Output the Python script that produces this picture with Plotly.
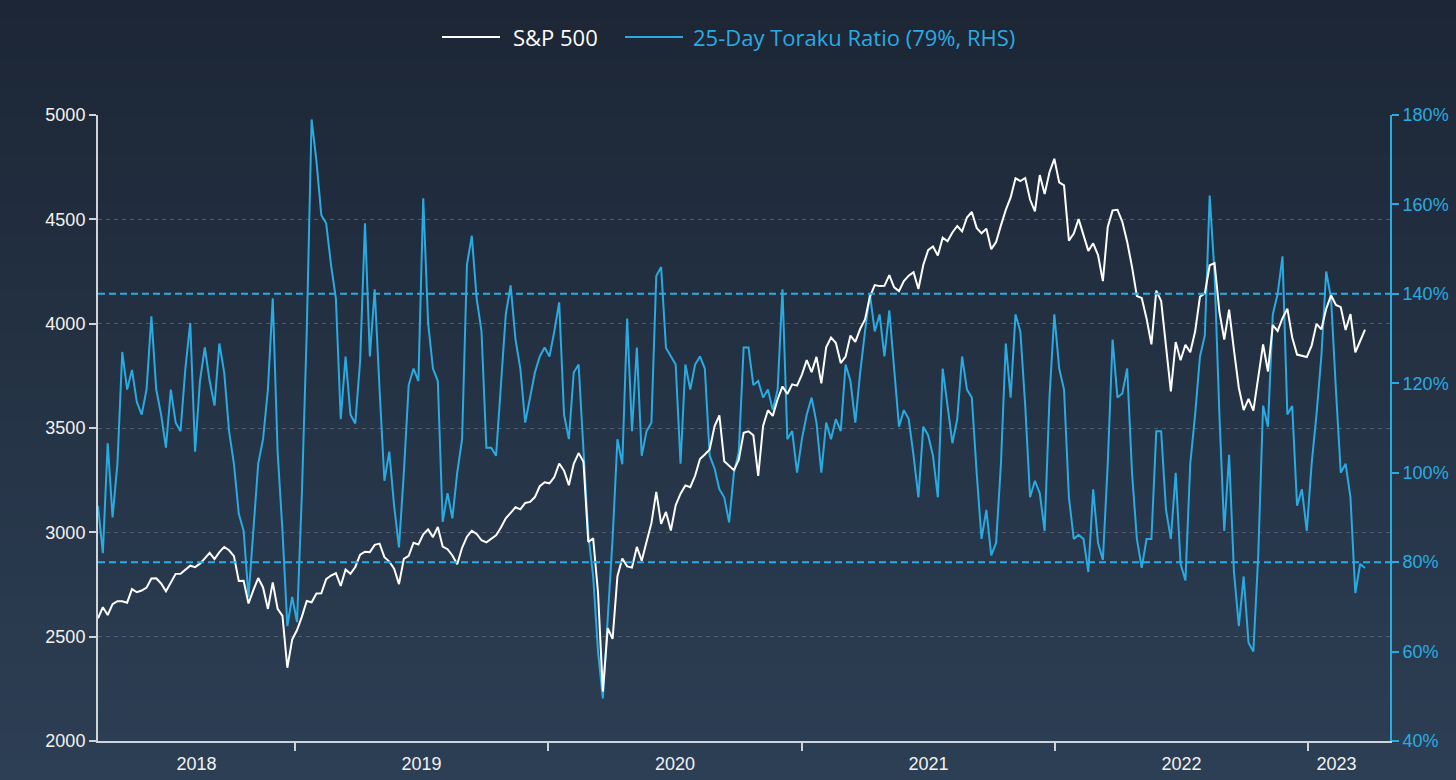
import pandas as pd
import plotly.graph_objects as go

#---DATA---
# weekly readings, first week ending 2018-03-23
start_date = "2018-03-23"
x_end = "2023-04-29"

sp500_2018 = [2588, 2641, 2604, 2656, 2670, 2670, 2663, 2728, 2713, 2721,
              2735, 2779, 2780, 2755, 2718, 2760, 2801, 2802, 2819, 2840,
              2833, 2850, 2875, 2902, 2872, 2905, 2930, 2914, 2886, 2767,
              2768, 2659, 2723, 2781, 2736, 2633, 2760, 2633, 2600, 2351,
              2486]
sp500_2019 = [2532, 2596, 2671, 2665, 2707, 2708, 2776, 2793, 2804, 2743,
              2822, 2801, 2834, 2893, 2907, 2905, 2940, 2946, 2881, 2860,
              2826, 2752, 2873, 2887, 2950, 2942, 2990, 3014, 2977, 3026,
              2932, 2919, 2889, 2847, 2926, 2979, 3007, 2992, 2962, 2952,
              2970, 2986, 3023, 3067, 3093, 3120, 3110, 3141, 3146, 3169,
              3221, 3240]
sp500_2020 = [3235, 3265, 3330, 3295, 3226, 3328, 3380, 3338, 2954, 2972,
              2711, 2237, 2541, 2489, 2790, 2875, 2837, 2831, 2930, 2864,
              2955, 3044, 3194, 3041, 3098, 3009, 3130, 3185, 3225, 3216,
              3271, 3351, 3373, 3397, 3508, 3560, 3341, 3319, 3298, 3348,
              3477, 3484, 3465, 3270, 3510, 3585, 3558, 3638, 3699, 3663,
              3709, 3703, 3756]
sp500_2021 = [3825, 3768, 3841, 3714, 3887, 3934, 3907, 3811, 3842, 3943,
              3913, 3975, 4020, 4129, 4185, 4180, 4181, 4233, 4174, 4156,
              4204, 4230, 4247, 4166, 4281, 4352, 4370, 4327, 4412, 4395,
              4437, 4468, 4442, 4509, 4535, 4459, 4433, 4455, 4357, 4391,
              4471, 4545, 4605, 4697, 4683, 4698, 4595, 4538, 4712, 4621,
              4726, 4790]
sp500_2022 = [4677, 4663, 4398, 4432, 4501, 4419, 4349, 4385, 4329, 4204,
              4463, 4543, 4546, 4488, 4393, 4272, 4132, 4123, 4024, 3901,
              4158, 4109, 3901, 3675, 3912, 3825, 3899, 3863, 3962, 4130,
              4145, 4280, 4290, 4058, 3924, 4067, 3873, 3693, 3586, 3640,
              3583, 3752, 3901, 3771, 3993, 3965, 4026, 4072, 3934, 3852,
              3845, 3840]
sp500_2023 = [3895, 3999, 3973, 4071, 4136, 4090, 4079, 3970, 4046, 3862,
              3917, 3971]

toraku_2018 = [92.6, 82.0, 106.6, 90.0, 102.0, 127.0, 118.6, 123.0, 115.8, 113.0,
               118.6, 135.0, 118.6, 113.0, 105.6, 118.6, 111.2, 109.3, 123.3, 133.5,
               104.7, 120.5, 128.0, 120.5, 115.0, 128.9, 122.4, 109.3, 102.0, 90.8,
               87.0, 72.2, 87.0, 102.0, 107.5, 118.6, 139.0, 104.7, 87.0, 65.7,
               72.2]
toraku_2019 = [66.6, 95.4, 131.6, 179.0, 169.7, 157.6, 155.8, 146.5, 139.0, 112.0,
               126.0, 113.0, 111.0, 125.0, 155.8, 126.0, 141.0, 118.6, 98.2, 104.7,
               92.6, 83.3, 100.0, 119.6, 123.3, 120.5, 161.4, 133.5, 123.3, 120.5,
               89.0, 95.4, 89.8, 100.0, 107.5, 146.5, 153.0, 139.0, 131.6, 105.6,
               105.6, 103.8, 118.6, 135.4, 141.9, 129.8, 123.3, 111.2, 116.8, 122.4,
               126.0, 128.0]
toraku_2020 = [126.0, 131.6, 138.1, 113.0, 107.5, 122.4, 124.2, 104.7, 86.1, 76.8,
               60.0, 49.5, 68.5, 85.2, 107.5, 101.9, 134.5, 109.3, 128.0, 103.8,
               109.3, 111.2, 144.0, 146.0, 127.9, 126.0, 124.2, 102.0, 124.2, 118.6,
               124.2, 126.0, 123.3, 103.8, 101.0, 96.3, 94.5, 88.9, 100.0, 104.7,
               128.0, 128.0, 119.6, 120.5, 116.8, 118.6, 114.0, 118.6, 141.0, 107.5,
               109.3, 100.0, 107.5]
toraku_2021 = [113.0, 116.8, 111.2, 100.0, 111.2, 107.5, 112.0, 109.3, 124.2, 120.5,
               111.2, 122.4, 131.6, 140.0, 131.6, 135.4, 126.0, 136.3, 123.3, 110.3,
               114.0, 112.0, 103.8, 94.5, 110.3, 108.4, 103.8, 94.5, 123.3, 115.0,
               106.6, 112.0, 126.0, 118.6, 116.8, 100.0, 85.2, 91.7, 81.5, 84.3,
               102.0, 128.9, 116.8, 135.4, 131.6, 115.0, 94.5, 98.2, 95.4, 87.0,
               116.8, 135.4]
toraku_2022 = [123.3, 118.6, 94.5, 85.2, 86.1, 85.2, 77.8, 96.3, 84.3, 80.5,
               102.0, 129.8, 116.8, 117.7, 123.3, 100.0, 85.2, 78.7, 85.2, 85.2,
               109.3, 109.3, 91.7, 85.2, 100.0, 79.6, 75.9, 102.0, 113.0, 126.0,
               130.7, 162.0, 144.6, 113.0, 87.0, 104.0, 77.8, 65.7, 76.8, 62.0,
               60.0, 81.5, 115.0, 110.3, 135.4, 140.0, 148.4, 113.0, 114.9, 92.6,
               96.3, 87.0]
toraku_2023 = [102.0, 113.0, 126.0, 145.0, 139.0, 118.6, 100.0, 102.0, 94.5, 73.1,
               79.6, 78.7]

years = ["2018", "2019", "2020", "2021", "2022", "2023"]
thresholds = [140, 80]
sp_name = "S&P 500"
toraku_name = "25-Day Toraku Ratio (79%, RHS)"

sp500 = sp500_2018 + sp500_2019 + sp500_2020 + sp500_2021 + sp500_2022 + sp500_2023
toraku = toraku_2018 + toraku_2019 + toraku_2020 + toraku_2021 + toraku_2022 + toraku_2023
dates = pd.date_range(start_date, periods=len(sp500), freq="7D")

#---COLOURS---
blue = "#29abe2"
white = "#ffffff"
axis_grey = "#d0d3d8"
label_color = "#f2f2f2"

#year labels sit in the middle of the data inside each year, ticks mark the boundaries
label_pos = []
for yr in years:
    lo = max(pd.Timestamp(yr + "-01-01"), dates[0])
    hi = min(pd.Timestamp(str(int(yr) + 1) + "-01-01"), dates[-1])
    label_pos.append(lo + (hi - lo) / 2)

#---PLOT---
fig = go.Figure()
fig.add_trace(go.Scatter(
    x=dates, y=sp500,
    name=sp_name,
    mode="lines",
    yaxis="y2",
    line=dict(color=white, width=2)))
fig.add_trace(go.Scatter(
    x=dates, y=toraku,
    name=toraku_name,
    mode="lines",
    yaxis="y",
    line=dict(color=blue, width=2)))

#dashed 140% / 80% levels
for lvl in thresholds:
    fig.add_shape(type="line", xref="paper", x0=0, x1=1, yref="y", y0=lvl, y1=lvl,
                  line=dict(color=blue, width=2, dash="7px,4px"))

#---FRAME---
W, H = 1456, 780
m_l, m_r, m_t, m_b = 98, 66, 115, 39
plot_w = W - m_l - m_r
plot_h = H - m_t - m_b

def px_x(px):
    return (px - m_l) / plot_w

def px_y(py):
    return (H - m_b - py) / plot_h

#background gradient, drawn as thin bands under everything
top_rgb = (28, 38, 53)
bot_rgb = (45, 63, 85)
n_bands = 80
for k in range(n_bands):
    py0 = H * k / n_bands
    py1 = H * (k + 1) / n_bands + 1
    f = (k + 0.5) / n_bands
    c = tuple(int(round(top_rgb[j] + (bot_rgb[j] - top_rgb[j]) * f)) for j in range(3))
    fig.add_shape(type="rect", xref="paper", yref="paper", layer="below",
                  x0=-1, x1=2, y0=px_y(py1), y1=px_y(py0),
                  line=dict(width=0), fillcolor="rgb(%d,%d,%d)" % c)

#legend drawn by hand so the line samples are as long as in the original
leg_y = px_y(37)
leg_items = [(442, 500, 511, sp_name, white), (625, 683, 691, toraku_name, blue)]
for lx0, lx1, tx, txt, col in leg_items:
    fig.add_shape(type="line", xref="paper", yref="paper",
                  x0=px_x(lx0), x1=px_x(lx1), y0=leg_y, y1=leg_y,
                  line=dict(color=col, width=2))
    fig.add_annotation(xref="paper", yref="paper", x=px_x(tx), y=leg_y,
                       xanchor="left", yanchor="middle", showarrow=False,
                       text=txt, font=dict(family="Open Sans", size=22, color=col))

#---STYLE---
fig.update_layout(
    width=W, height=H,
    margin=dict(l=m_l, r=m_r, t=m_t, b=m_b, pad=0, autoexpand=False),
    paper_bgcolor="rgb(%d,%d,%d)" % bot_rgb,
    plot_bgcolor="rgba(0,0,0,0)",
    font=dict(family="Liberation Sans, Arial", size=18, color=label_color),
    showlegend=False,
    hovermode=False)

fig.update_layout(
    xaxis=dict(
        type="date",
        automargin=False,
        range=[dates[0], pd.Timestamp(x_end)],
        showgrid=False,
        zeroline=False,
        showline=True, linecolor=axis_grey, linewidth=2,
        tickvals=label_pos, ticktext=years,
        ticks="", ticklabelstandoff=5,
        tickfont=dict(size=18, color=label_color),
        minor=dict(dtick="M12", tick0="2018-01-01", ticks="outside",
                   ticklen=8, tickwidth=2, tickcolor=axis_grey, showgrid=False)),
    yaxis=dict(
        side="right",
        automargin=False,
        range=[40, 180], dtick=20, ticksuffix="%",
        showgrid=False, zeroline=False,
        showline=True, linecolor=blue, linewidth=2,
        ticks="outside", ticklen=7, tickwidth=2, tickcolor=blue,
        tickfont=dict(size=18, color=blue)),
    yaxis2=dict(
        overlaying="y", side="left", anchor="x",
        automargin=False,
        range=[2000, 5000], dtick=500,
        showgrid=True, gridcolor="rgba(190,195,205,0.28)", gridwidth=1, griddash="4px,4px",
        zeroline=False,
        showline=True, linecolor=axis_grey, linewidth=2,
        ticks="outside", ticklen=7, tickwidth=2, tickcolor=axis_grey,
        tickfont=dict(size=18, color=label_color)))

fig.write_html("out.html", config={"displayModeBar": False},
               post_script="document.body.style.margin='0';")
